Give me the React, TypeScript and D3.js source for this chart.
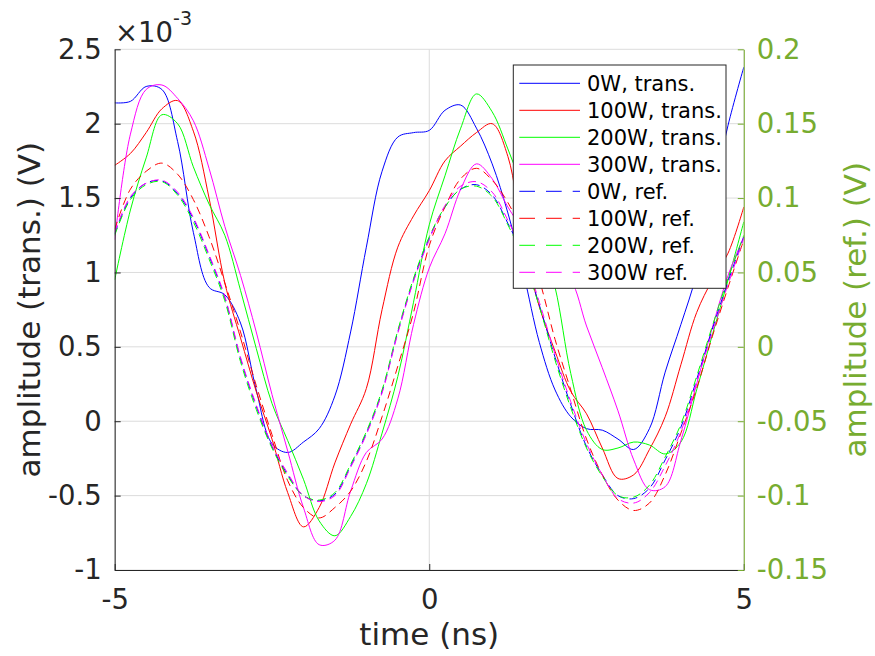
import { useEffect, useRef } from "react"
import * as d3 from "d3"

// sampling instants (ns)
const time = [
    -5, -4.75, -4.5, -4.25, -4, -3.75, -3.5, -3.25, -3, -2.75, -2.5, -2.25, -2, -1.75, -1.5, -1.25, -1, -0.75, -0.5, -0.25,
    0, 0.25, 0.5, 0.75, 1, 1.25, 1.5, 1.75, 2, 2.25, 2.5, 2.75, 3, 3.25, 3.5, 3.75, 4, 4.25, 4.5, 4.75, 5,
]

// transmitted amplitude, x 1e-3 V (left axis)
const trans0W = [
    2.14, 2.15, 2.25, 2.23, 1.88, 1.27, 0.9, 0.85, 0.66, 0.21, -0.15, -0.21, -0.14, -0.05, 0.17, 0.6, 1.17, 1.68, 1.91, 1.94,
    1.955, 2.09, 2.125, 1.97, 1.73, 1.4, 0.99, 0.53, 0.21, 0.03, -0.05, -0.06, -0.12, -0.19, -0.05, 0.33, 0.65, 0.99, 1.5, 1.99, 2.38,
]
const trans100W = [
    1.72, 1.8, 1.94, 2.1, 2.155, 1.95, 1.5, 0.93, 0.56, 0.2, -0.12, -0.48, -0.71, -0.58, -0.28, -0.02, 0.22, 0.75, 1.17, 1.38,
    1.55, 1.75, 1.85, 1.94, 2.0, 1.78, 1.2, 0.77, 0.47, 0.2, 0.05, -0.18, -0.385, -0.36, -0.19, 0.03, 0.38, 0.73, 0.95, 1.13, 1.44,
]
const trans200W = [
    0.95, 1.42, 1.77, 2.06, 2.0, 1.71, 1.46, 1.25, 0.88, 0.49, 0.12, -0.13, -0.39, -0.67, -0.77, -0.64, -0.42, -0.08, 0.3, 0.8,
    1.32, 1.65, 1.97, 2.2, 2.08, 1.83, 1.55, 1.25, 0.9, 0.32, -0.06, -0.19, -0.18, -0.14, -0.16, -0.22, -0.14, 0.21, 0.58, 0.95, 1.34,
]
const trans300W = [
    1.22, 1.93, 2.23, 2.26, 2.17, 2.02, 1.7, 1.31, 0.98, 0.6, 0.18, -0.2, -0.58, -0.83, -0.8, -0.47, -0.21, -0.12, 0.15, 0.65,
    1.03, 1.26, 1.56, 1.73, 1.63, 1.44, 1.28, 1.15, 1.04, 0.95, 0.64, 0.36, 0.07, -0.26, -0.46, -0.44, -0.13, 0.25, 0.63, 0.98, 1.24,
]

// reflected amplitude, V (right axis)
const ref0W = [
    0.076, 0.1, 0.11, 0.1115, 0.103, 0.086, 0.061, 0.033, -0.008, -0.04, -0.067, -0.086, -0.1, -0.1035, -0.099, -0.08, -0.058, -0.03, 0.01, 0.045,
    0.073, 0.094, 0.106, 0.109, 0.102, 0.083, 0.06, 0.028, -0.007, -0.039, -0.067, -0.086, -0.1, -0.102, -0.095, -0.076, -0.054, -0.022, 0.012, 0.044, 0.074,
]
const ref100W = [
    0.079, 0.106, 0.118, 0.1235, 0.116, 0.099, 0.074, 0.043, 0.01, -0.026, -0.059, -0.09, -0.108, -0.115, -0.108, -0.097, -0.077, -0.047, -0.013, 0.023,
    0.068, 0.094, 0.113, 0.12, 0.112, 0.097, 0.075, 0.045, 0.005, -0.029, -0.062, -0.086, -0.103, -0.11, -0.105, -0.086, -0.058, -0.028, 0.007, 0.04, 0.072,
]
const ref200W = [
    0.075, 0.099, 0.109, 0.111, 0.102, 0.084, 0.059, 0.031, -0.01, -0.042, -0.068, -0.087, -0.1, -0.103, -0.098, -0.079, -0.057, -0.029, 0.011, 0.046,
    0.074, 0.094, 0.106, 0.108, 0.101, 0.082, 0.059, 0.027, -0.009, -0.041, -0.068, -0.087, -0.1, -0.101, -0.093, -0.074, -0.052, -0.02, 0.014, 0.046, 0.075,
]
const ref300W = [
    0.077, 0.101, 0.11, 0.112, 0.104, 0.087, 0.062, 0.034, -0.007, -0.039, -0.066, -0.085, -0.1, -0.104, -0.1, -0.081, -0.059, -0.031, 0.009, 0.044,
    0.072, 0.095, 0.108, 0.111, 0.104, 0.085, 0.062, 0.03, -0.005, -0.037, -0.065, -0.086, -0.102, -0.105, -0.098, -0.08, -0.057, -0.024, 0.01, 0.042, 0.073,
]

const timeTicks = [-5, 0, 5]
const leftTicks = [-1, -0.5, 0, 0.5, 1, 1.5, 2, 2.5]
const rightTicks = [-0.15, -0.1, -0.05, 0, 0.05, 0.1, 0.15, 0.2]

const transSeries = [
    { label: "0W, trans.", color: "#0000ff", values: trans0W },
    { label: "100W, trans.", color: "#ff0000", values: trans100W },
    { label: "200W, trans.", color: "#00ff00", values: trans200W },
    { label: "300W, trans.", color: "#ff00ff", values: trans300W },
]
const refSeries = [
    { label: "0W, ref.", color: "#0000ff", values: ref0W },
    { label: "100W, ref.", color: "#ff0000", values: ref100W },
    { label: "200W, ref.", color: "#00ff00", values: ref200W },
    { label: "300W ref.", color: "#ff00ff", values: ref300W },
]

const FONT = "'DejaVu Sans', sans-serif"
const INK = "#262626"
const RIGHT = "#77ac30"

export default function App() {
    const svgRef = useRef(null)

    useEffect(() => {
        const width = 875
        const height = 656
        const margin = { top: 49.3, right: 131.2, bottom: 86, left: 114.7 }

        const svg = d3.select(svgRef.current)
        svg.selectAll("*").remove()
        svg.append("rect").attr("width", width).attr("height", height).attr("fill", "#fff")

        const x = d3.scaleLinear().domain([-5, 5]).range([margin.left, width - margin.right])
        const yL = d3.scaleLinear().domain([-1, 2.5]).range([height - margin.bottom, margin.top])
        const yR = d3.scaleLinear().domain([-0.15, 0.2]).range([height - margin.bottom, margin.top])
        const fmt = (v) => String(+v.toFixed(2))

        svg.append("clipPath").attr("id", "plot-clip")
            .append("rect")
            .attr("x", margin.left).attr("y", margin.top)
            .attr("width", width - margin.left - margin.right)
            .attr("height", height - margin.top - margin.bottom)

        // grid
        const grid = svg.append("g").attr("stroke", "#dcdcdc").attr("stroke-width", 1)
        grid.selectAll(".gy").data(leftTicks).enter().append("line")
            .attr("x1", margin.left).attr("x2", width - margin.right)
            .attr("y1", (d) => yL(d)).attr("y2", (d) => yL(d))
        grid.selectAll(".gx").data(timeTicks).enter().append("line")
            .attr("x1", (d) => x(d)).attr("x2", (d) => x(d))
            .attr("y1", margin.top).attr("y2", height - margin.bottom)

        // curves
        const plot = svg.append("g").attr("clip-path", "url(#plot-clip)")
        const lineL = d3.line().x((d, i) => x(time[i])).y((d) => yL(d)).curve(d3.curveCatmullRom)
        const lineR = d3.line().x((d, i) => x(time[i])).y((d) => yR(d)).curve(d3.curveCatmullRom)

        plot.selectAll(".trans").data(transSeries).enter().append("path")
            .attr("d", (s) => lineL(s.values))
            .attr("fill", "none").attr("stroke", (s) => s.color).attr("stroke-width", 1)
        plot.selectAll(".ref").data(refSeries).enter().append("path")
            .attr("d", (s) => lineR(s.values))
            .attr("fill", "none").attr("stroke", (s) => s.color).attr("stroke-width", 1)
            .attr("stroke-dasharray", "8 5")

        // axes
        const styleAxis = (g, color) => {
            g.attr("font-family", FONT).attr("font-size", 27.5)
            g.selectAll("path, line").attr("stroke", color)
            g.selectAll("text").attr("fill", color)
        }

        svg.append("g")
            .attr("transform", `translate(0,${height - margin.bottom})`)
            .call(d3.axisBottom(x).tickValues(timeTicks).tickFormat(fmt).tickSizeInner(-6).tickSizeOuter(0).tickPadding(19))
            .call((g) => styleAxis(g, INK))

        svg.append("g")
            .attr("transform", `translate(${margin.left},0)`)
            .call(d3.axisLeft(yL).tickValues(leftTicks).tickFormat(fmt).tickSizeInner(-6).tickSizeOuter(0).tickPadding(13))
            .call((g) => styleAxis(g, INK))

        svg.append("g")
            .attr("transform", `translate(${width - margin.right},0)`)
            .call(d3.axisRight(yR).tickValues(rightTicks).tickFormat(fmt).tickSizeInner(-6).tickSizeOuter(0).tickPadding(13))
            .call((g) => styleAxis(g, RIGHT))

        // labels
        svg.append("text")
            .attr("x", (margin.left + width - margin.right) / 2).attr("y", 645)
            .attr("text-anchor", "middle").attr("font-family", FONT).attr("font-size", 31).attr("fill", INK)
            .text("time (ns)")

        svg.append("text")
            .attr("transform", `translate(40,${(margin.top + height - margin.bottom) / 2}) rotate(-90)`)
            .attr("text-anchor", "middle").attr("font-family", FONT).attr("font-size", 31).attr("fill", INK)
            .text("amplitude (trans.) (V)")

        svg.append("text")
            .attr("transform", `translate(866,${(margin.top + height - margin.bottom) / 2}) rotate(-90)`)
            .attr("text-anchor", "middle").attr("font-family", FONT).attr("font-size", 31).attr("fill", RIGHT)
            .text("amplitude (ref.) (V)")

        const expo = svg.append("text")
            .attr("x", 115).attr("y", 42)
            .attr("font-family", FONT).attr("font-size", 27.5).attr("fill", INK)
        expo.append("tspan").text("×10")
        expo.append("tspan").attr("dy", -17).attr("font-size", 19).text("-3")

        // legend
        const entries = [...transSeries.map((s) => ({ ...s, dash: null })), ...refSeries.map((s) => ({ ...s, dash: "15.7 11" }))]
        const legend = svg.append("g")
        legend.append("rect")
            .attr("x", 513.3).attr("y", 65).attr("width", 212.7).attr("height", 223.3)
            .attr("fill", "#fff").attr("stroke", INK).attr("stroke-width", 1)
        const rows = legend.selectAll(".row").data(entries).enter().append("g")
            .attr("transform", (d, i) => `translate(0,${83.3 + i * 27})`)
        rows.append("line")
            .attr("x1", 519.3).attr("x2", 580).attr("y1", 0).attr("y2", 0)
            .attr("stroke", (d) => d.color).attr("stroke-width", 1)
            .attr("stroke-dasharray", (d) => d.dash)
        rows.append("text")
            .attr("x", 587).attr("y", 7.5)
            .attr("font-family", FONT).attr("font-size", 21).attr("fill", "#000")
            .text((d) => d.label)
    }, [])

    return (
        <div style={{ position: "absolute", left: 0, top: 0 }}>
            <svg ref={svgRef} width={875} height={656} style={{ display: "block" }}></svg>
        </div>
    )
}
